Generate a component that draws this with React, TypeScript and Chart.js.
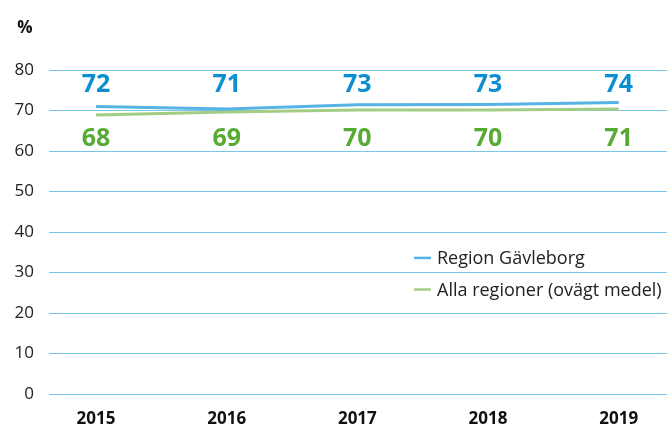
import React, { useEffect, useRef } from "react";
import { Chart, registerables } from "chart.js";

Chart.register(...registerables);

const categories = [2015, 2016, 2017, 2018, 2019];
const gavleborgLine = [71.0, 70.4, 71.4, 71.5, 72.0];
const allaLine = [68.9, 69.6, 70.1, 70.1, 70.4];
const gavleborgLabels = [72, 71, 73, 73, 74];
const allaLabels = [68, 69, 70, 70, 71];
const yTicks = [0, 10, 20, 30, 40, 50, 60, 70, 80];
const seriesNames = ["Region Gävleborg", "Alla regioner (ovägt medel)"];

const BLUE_LINE = "#56b3e4";
const GREEN_LINE = "#a3cd85";
const BLUE_TEXT = "#0b8fd1";
const GREEN_TEXT = "#57aa33";
const GRID = "#79c6ea";
const FONT = "'Open Sans', sans-serif";

const overlayPlugin = {
  id: "overlay",
  afterDatasetsDraw(chart: any) {
    const { ctx, scales } = chart;
    const x = scales.x;
    const y = scales.y;
    ctx.save();
    // value labels
    ctx.textAlign = "center";
    ctx.textBaseline = "middle";
    ctx.font = `bold 25px ${FONT}`;
    categories.forEach((c, i) => {
      ctx.fillStyle = BLUE_TEXT;
      ctx.fillText(String(gavleborgLabels[i]), x.getPixelForValue(c), y.getPixelForValue(76.4));
      ctx.fillStyle = GREEN_TEXT;
      ctx.fillText(String(allaLabels[i]), x.getPixelForValue(c), y.getPixelForValue(63.0));
    });
    // % unit
    ctx.fillStyle = "#111";
    ctx.font = `bold 17px ${FONT}`;
    ctx.textAlign = "center";
    ctx.fillText("%", 25, 28);
    // legend
    ctx.font = `18px ${FONT}`;
    ctx.textAlign = "left";
    const colors = [BLUE_LINE, GREEN_LINE];
    const ly = [y.getPixelForValue(33.6), y.getPixelForValue(25.8)];
    seriesNames.forEach((n, i) => {
      ctx.strokeStyle = colors[i];
      ctx.lineWidth = 2.5;
      ctx.beginPath();
      ctx.moveTo(414, ly[i]);
      ctx.lineTo(431, ly[i]);
      ctx.stroke();
      ctx.fillStyle = "#222";
      ctx.fillText(n, 437, ly[i] + 1);
    });
    ctx.restore();
  },
};

export default function App() {
  const ref = useRef<HTMLCanvasElement>(null);
  useEffect(() => {
    if (!ref.current) return;
    const chart = new Chart(ref.current, {
      type: "line",
      data: {
        datasets: [
          {
            label: seriesNames[0],
            data: categories.map((c, i) => ({ x: c, y: gavleborgLine[i] })),
            borderColor: BLUE_LINE,
            borderWidth: 3,
            pointRadius: 0,
            tension: 0,
          },
          {
            label: seriesNames[1],
            data: categories.map((c, i) => ({ x: c, y: allaLine[i] })),
            borderColor: GREEN_LINE,
            borderWidth: 3,
            pointRadius: 0,
            tension: 0,
          },
        ],
      },
      options: {
        animation: false,
        responsive: false,
        maintainAspectRatio: false,
        layout: { padding: { top: 70, right: 0, bottom: 0, left: 0 } },
        plugins: { legend: { display: false }, tooltip: { enabled: false } },
        scales: {
          x: {
            type: "linear",
            min: 2014.64,
            max: 2019.37,
            afterBuildTicks(axis: any) {
              axis.ticks = categories.map((c) => ({ value: c }));
            },
            afterFit(axis: any) {
              axis.height = 32;
            },
            grid: { display: false, drawTicks: false },
            border: { display: false },
            ticks: {
              padding: 15,
              color: "#111",
              font: { family: FONT, size: 17, weight: "bold" },
              callback: (v: any) => String(v),
            },
          },
          y: {
            min: 0,
            max: 80,
            afterBuildTicks(axis: any) {
              axis.ticks = yTicks.map((v) => ({ value: v }));
            },
            afterFit(axis: any) {
              axis.width = 49;
            },
            grid: { color: GRID, lineWidth: 1, drawTicks: false },
            border: { display: false },
            ticks: {
              padding: 15,
              color: "#222",
              font: { family: FONT, size: 17 },
            },
          },
        },
      },
      plugins: [overlayPlugin],
    } as any);
    return () => chart.destroy();
  }, []);
  return (
    <div style={{ position: "absolute", left: 0, top: 0, width: 667, height: 426, background: "#fff" }}>
      <canvas ref={ref} width={667} height={426} style={{ width: 667, height: 426 }} />
    </div>
  );
}
